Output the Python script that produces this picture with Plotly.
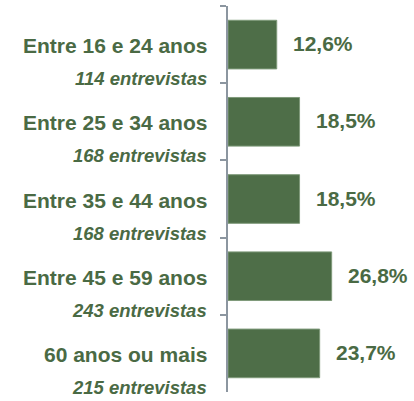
import plotly.graph_objects as go

categories = ["Entre 16 e 24 anos", "Entre 25 e 34 anos", "Entre 35 e 44 anos",
              "Entre 45 e 59 anos", "60 anos ou mais"]
interviews = ["114 entrevistas", "168 entrevistas", "168 entrevistas",
              "243 entrevistas", "215 entrevistas"]
values = [12.6, 18.5, 18.5, 26.8, 23.7]
value_labels = ["12,6%", "18,5%", "18,5%", "26,8%", "23,7%"]

GREEN = "#4e6e48"
TEXT = "#4a6a44"
FONT = "Liberation Sans, Arial, sans-serif"

fig = go.Figure()
fig.add_trace(go.Bar(
    x=values, y=categories, orientation="h",
    width=0.63,
    marker=dict(color=GREEN, line=dict(color="#7f9a7a", width=1)),
    hoverinfo="skip",
))

annotations = []
for cat, sub, v, lab in zip(categories, interviews, values, value_labels):
    annotations.append(dict(x=v, y=cat, xref="x", yref="y", text=f"<b>{lab}</b>",
                            showarrow=False, xanchor="left", xshift=14, yshift=1,
                            font=dict(family=FONT, size=21, color=TEXT)))
    annotations.append(dict(x=0, y=cat, xref="paper", yref="y", text=f"<b>{cat}</b>",
                            showarrow=False, xanchor="right", xshift=-19, yshift=-1,
                            font=dict(family=FONT, size=21, color=TEXT)))
    annotations.append(dict(x=0, y=cat, xref="paper", yref="y", text=f"<b><i>{sub}</i></b>",
                            showarrow=False, xanchor="right", xshift=-19, yshift=-34,
                            font=dict(family=FONT, size=18.5, color=TEXT)))

fig.update_layout(
    width=414, height=401,
    margin=dict(l=228, r=10, t=6, b=9),
    paper_bgcolor="white", plot_bgcolor="white",
    showlegend=False,
    annotations=annotations,
    xaxis=dict(range=[0, 45.5], visible=False, fixedrange=True),
    yaxis=dict(range=[4.5, -0.5], showline=True, linecolor="#8c96a0", linewidth=2,
               ticks="outside", tickson="boundaries", ticklen=6, tickcolor="#8c96a0",
               tickwidth=2, showticklabels=False, showgrid=False, zeroline=False,
               fixedrange=True),
)

fig.write_html("out.html", config={"displayModeBar": False},
               post_script="document.body.style.margin='0';")
